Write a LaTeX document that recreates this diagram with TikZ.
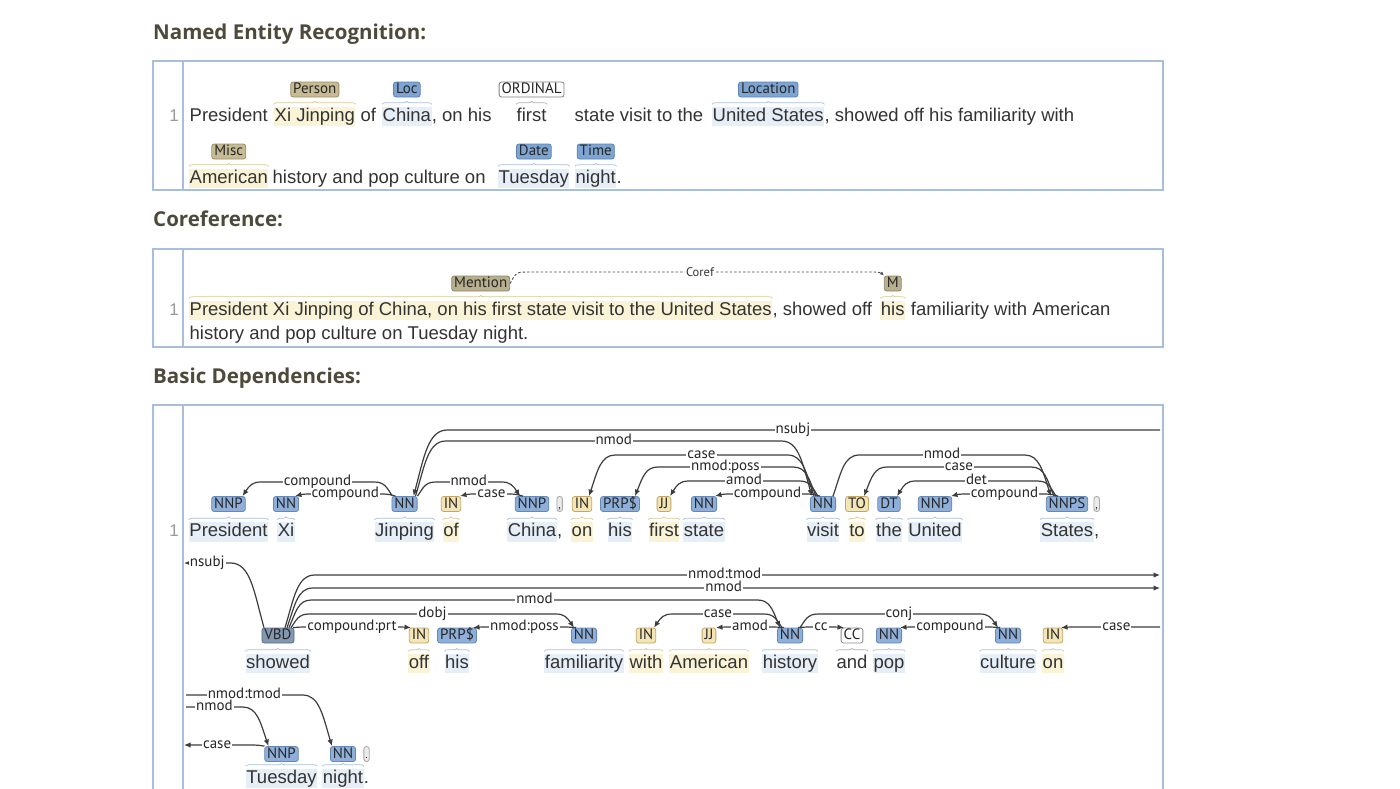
\documentclass[tikz,border=0pt]{standalone}
\usepackage{fontspec}
\setmainfont{Liberation Sans}
\newfontfamily\lblfont{PT Sans}
\newfontfamily\hdrfont{Open Sans}
\usetikzlibrary{arrows.meta,bending,calc,decorations.pathreplacing}

\definecolor{txt}{HTML}{333333}
\definecolor{frame}{HTML}{A8BEDD}
\definecolor{hdrc}{HTML}{4D4A3C}
\definecolor{tagblue}{HTML}{8EAFD9}
\definecolor{tagblueB}{HTML}{6588B6}
\definecolor{tagtan}{HTML}{F3E5B6}
\definecolor{tagtanB}{HTML}{C3A766}
\definecolor{tagvbd}{HTML}{8397B0}
\definecolor{tagvbdB}{HTML}{566D88}
\definecolor{enttan}{HTML}{C6BB94}
\definecolor{enttanB}{HTML}{9D9068}
\definecolor{entblue}{HTML}{7EA5D1}
\definecolor{entblueB}{HTML}{5A82B3}
\definecolor{menttan}{HTML}{B8AF8E}
\definecolor{menttanB}{HTML}{8F8566}
\definecolor{hlblue}{HTML}{E6EEF8}
\definecolor{hltan}{HTML}{FBF3D6}
\definecolor{braceblue}{HTML}{A9C0DE}
\definecolor{bracetan}{HTML}{D9C98F}
\definecolor{arcc}{HTML}{3D3D3D}

\tikzset{
  word/.style={anchor=base, inner xsep=0.5pt, inner ysep=0.5pt, text height=14pt, text depth=4.5pt,
    font=\fontsize{18.5}{22}\selectfont, text=txt},
  wordL/.style={word, anchor=base west},
  hlB/.style={fill=hlblue}, hlT/.style={fill=hltan}, hlV/.style={fill=hlblue},
  hlW/.style={}, hlP/.style={},
  lbl/.style={font=\lblfont\fontsize{15}{15}\selectfont, rounded corners=2.5pt, inner xsep=2.5pt,
    inner ysep=0pt, text height=10.5pt, text depth=2.5pt, minimum height=15pt, line width=0.8pt,
    text=black!85},
  tagB/.style={lbl, fill=tagblue, draw=tagblueB},
  tagT/.style={lbl, fill=tagtan, draw=tagtanB},
  tagV/.style={lbl, fill=tagvbd, draw=tagvbdB},
  tagW/.style={lbl, fill=white, draw=black!45},
  tagP/.style={lbl, fill=black!8, draw=black!35, inner xsep=1.5pt, font=\lblfont\fontsize{11}{11}\selectfont},
  entT/.style={lbl, fill=enttan, draw=enttanB},
  entB/.style={lbl, fill=entblue, draw=entblueB},
  entW/.style={lbl, fill=white, draw=black!50},
  entM/.style={lbl, fill=menttan, draw=menttanB},
  brc/.style={decorate, decoration={brace, amplitude=3pt}, line width=0.7pt},
  brB/.style={brc, draw=braceblue}, brT/.style={brc, draw=bracetan},
  brV/.style={brc, draw=braceblue}, brW/.style={brc, draw=black!30}, brP/.style={brc, draw=black!25},
  arcln/.style={draw=arcc, line width=1.2pt, >={Latex[length=6.5pt,width=5.5pt,flex]}},
  arclbl/.style={fill=white, inner xsep=1pt, inner ysep=0pt, font=\lblfont\fontsize{15}{15}\selectfont,
    text=black!85, text height=9pt, text depth=2pt},
  corefln/.style={draw=black!70, line width=0.9pt, dash pattern=on 2.5pt off 2pt,
    -{Latex[length=4pt,width=3.5pt,flex]}},
  coreflbl/.style={fill=white, inner sep=1pt, font=\lblfont\fontsize{12.5}{12.5}\selectfont, text=black!80},
  framebox/.style={draw=frame, line width=1.5pt},
  hdr/.style={anchor=base west, inner sep=0pt, font=\hdrfont\bfseries\fontsize{20.5}{24}\selectfont, text=hdrc},
  lno/.style={anchor=base east, inner sep=0pt, font=\fontsize{17}{20}\selectfont, text=black!40}
}

% token: word, its part-of-speech tag (#1 above the baseline) and the brace between them
\newcommand\deptok[7][32.5pt]{%
  \node[word, hl#2] (w#3) at (#4,#5) {#6};
  \node[tag#2] (t#3) at ([yshift=#1]w#3.base) {#7};
  \draw[br#2] ([yshift=2pt]w#3.north west) -- ([yshift=2pt]w#3.north east);}
% punctuation token glued to the previous word
\newcommand\deppunct[4][32.5pt]{%
  \node[word, anchor=base west, inner xsep=0pt] (w#2) at (#3.base east) {#4};
  \node[tagP] (t#2) at ([yshift=#1]w#2.base) {#4};}
% entity label over a text span
\newcommand\entlbl[4]{%
  \node[#1] (e#2) at ([yshift=31.5pt]#2.base) {#3};
  \draw[#4] ([yshift=2pt]#2.north west) -- ([yshift=2pt]#2.north east);}
% dependency arc between two tags; #4 is the height of the horizontal run
\newcommand\deparc[5][]{%
  \draw[arcln,#1] let \p1=(#2), \p2=(#3),
      \n1={14+0.3*abs(\y1+#4pt)}, \n2={14+0.3*abs(\y2+#4pt)} in
    (\p1) .. controls ({\x1+0.3*\n1},{0.45*\y1-0.55*#4pt}) and ({\x1+0.4*\n1},-#4pt) .. ({\x1+\n1},-#4pt)
    -- node[arclbl]{#5} ({\x2-\n2},-#4pt)
    .. controls ({\x2-0.4*\n2},-#4pt) and ({\x2-0.3*\n2},{0.45*\y2-0.55*#4pt}) .. (\p2);}
% arc running out to the right margin
\newcommand\arcedgeR[5][]{%
  \draw[arcln,#1] let \p1=(#2), \p2=(#3), \n1={14+0.3*abs(\y1+#4pt)} in
    (\p1) .. controls ({\x1+0.3*\n1},{0.45*\y1-0.55*#4pt}) and ({\x1+0.4*\n1},-#4pt) .. ({\x1+\n1},-#4pt)
    -- node[arclbl, pos=0.485]{#5} (\p2);}
% arc coming in from the left margin
\newcommand\arcedgeL[5][]{%
  \draw[arcln,#1] let \p1=(#2), \p2=(#3), \n2={14+0.3*abs(\y2+#4pt)} in
    (\p1) -- node[arclbl]{#5} ({\x2-\n2},-#4pt)
    .. controls ({\x2-0.4*\n2},-#4pt) and ({\x2-0.3*\n2},{0.45*\y2-0.55*#4pt}) .. (\p2);}

\begin{document}
\begin{tikzpicture}[x=1pt,y=-1pt]
\useasboundingbox (0,0) rectangle (1400,788);
\clip (0,0) rectangle (1400,788);
\fill[white] (0,0) rectangle (1400,788);

% ---------- section frames ----------
\draw[framebox] (153,61) rectangle (1163,190);
\draw[framebox] (183,61) -- (183,190);
\draw[framebox] (153,249) rectangle (1163,347);
\draw[framebox] (183,249) -- (183,347);
\draw[framebox] (153,405) rectangle (1163,820);
\draw[framebox] (183,405) -- (183,820);

\node[hdr] (h1) at (153,39.5) {Named Entity Recognition:};
\node[hdr] (h2) at (153,226.5) {Coreference:};
\node[hdr] (h3) at (153,383.5) {Basic Dependencies:};

\node[lno] (l1) at (179,121) {1};
\node[lno] (l2) at (179,315) {1};
\node[lno] (l3) at (179,536.5) {1};

% ---------- named entities ----------
\node[wordL] (n1a) at (189,121) {President};
\node[wordL, hlT] (n1b) at (274,121) {Xi Jinping};
\node[wordL] (n1c) at (360,121) {of};
\node[wordL, hlB] (n1d) at (382,121) {China};
\node[wordL, inner xsep=0pt] (n1e) at (n1d.base east) {, on his};
\node[wordL] (n1f) at (516,121) {first};
\node[wordL] (n1g) at (574,121) {state visit to the};
\node[wordL, hlB] (n1h) at (712,121) {United States};
\node[wordL, inner xsep=0pt] (n1i) at (n1h.base east) {, showed off his familiarity with};
\entlbl{entT}{n1b}{Person}{brT}
\entlbl{entB}{n1d}{Loc}{brB}
\entlbl{entW}{n1f}{ORDINAL}{brW}
\entlbl{entB}{n1h}{Location}{brB}

\node[wordL, hlT] (n2a) at (189,183) {American};
\node[wordL] (n2b) at (272,183) {history and pop culture on};
\node[wordL, hlB] (n2c) at (498,183) {Tuesday};
\node[wordL, hlB] (n2d) at (575,183) {night};
\node[wordL, inner xsep=0pt] (n2e) at (n2d.base east) {.};
\entlbl{entT}{n2a}{Misc}{brT}
\entlbl{entB}{n2c}{Date}{brB}
\entlbl{entB}{n2d}{Time}{brB}

% ---------- coreference ----------
\node[wordL, hlT] (c1a) at (189,315) {President Xi Jinping of China, on his first state visit to the United States};
\node[wordL, inner xsep=0pt] (c1b) at (c1a.base east) {, showed off};
\node[wordL, hlT] (c1c) at ([xshift=8pt]c1b.base east) {his};
\node[wordL] (c1d) at ([xshift=5pt]c1c.base east) {familiarity with American};
\node[wordL] (c2a) at (189,339) {history and pop culture on Tuesday night.};
\entlbl{entM}{c1a}{Mention}{brT}
\entlbl{entM}{c1c}{M}{brT}
\draw[corefln] let \p1=(ec1a.east), \p2=(ec1c.north west) in
  (\p1) .. controls ({\x1+6pt},-272pt) .. ({\x1+20pt},-272pt)
  -- node[coreflbl]{Coref} ({\x2-14pt},-272pt)
  .. controls ({\x2-3pt},-272pt) .. (\p2);

% ---------- dependencies, line 1 ----------
\deptok{B}{P}{228.5}{536.5}{President}{NNP}
\deptok{B}{Xi}{286}{536.5}{Xi}{NN}
\deptok{B}{J}{404.5}{536.5}{Jinping}{NN}
\deptok{T}{Of}{451}{536.5}{of}{IN}
\deptok{B}{Ch}{532}{536.5}{China}{NNP}
\deppunct{Cm}{wCh}{,}
\deptok{T}{On}{582}{536.5}{on}{IN}
\deptok{B}{His}{620}{536.5}{his}{PRP\$}
\deptok{T}{First}{664}{536.5}{first}{JJ}
\deptok{B}{State}{704}{536.5}{state}{NN}
\deptok{B}{Visit}{823}{536.5}{visit}{NN}
\deptok{T}{To}{857}{536.5}{to}{TO}
\deptok{B}{The}{889}{536.5}{the}{DT}
\deptok{B}{Un}{935}{536.5}{United}{NNP}
\deptok{B}{St}{1067}{536.5}{States}{NNPS}
\deppunct{Cm2}{wSt}{,}

% ---------- dependencies, line 2 ----------
\deptok{V}{Sh}{278}{668}{showed}{VBD}
\deptok{T}{Off}{419}{668}{off}{IN}
\deptok{B}{His2}{457}{668}{his}{PRP\$}
\deptok{B}{Fam}{584}{668}{familiarity}{NN}
\deptok{T}{With}{646}{668}{with}{IN}
\deptok{T}{Am}{709}{668}{American}{JJ}
\deptok{B}{Hist}{790}{668}{history}{NN}
\deptok{W}{And}{852}{668}{and}{CC}
\deptok{B}{Pop}{889}{668}{pop}{NN}
\deptok{B}{Cult}{1008}{668}{culture}{NN}
\deptok{T}{On2}{1053}{668}{on}{IN}

% ---------- dependencies, line 3 ----------
\deptok[29pt]{B}{Tue}{281.5}{783}{Tuesday}{NNP}
\deptok[29pt]{B}{Night}{343}{783}{night}{NN}
\deppunct[29pt]{Dot}{wNight}{.}

% margin ends of arcs that continue on another line
\coordinate (eR1) at (1160,430);
\coordinate (eL2) at (184,563);
\coordinate (eR2a) at (1160,575);
\coordinate (eR2b) at (1160,588);
\coordinate (eR2c) at (1160,627);
\coordinate (eL3a) at (186,695);
\coordinate (eL3b) at (186,707);
\coordinate (eL3c) at (184,745);

% arcs, line 1
\arcedgeR[<-]{[xshift=9pt]tJ.north}{eR1}{430}{nsubj}
\deparc[->]{[xshift=11pt]tJ.north}{[xshift=-11pt]tVisit.north}{441}{nmod}
\deparc[<-]{[xshift=14pt]tP.north}{[xshift=-12pt]tJ.north}{482}{compound}
\deparc[<-]{[xshift=9pt]tXi.north}{[xshift=-9pt]tJ.north}{494}{compound}
\deparc[->]{[xshift=13pt]tJ.north}{[xshift=-12pt]tCh.north}{482}{nmod}
\deparc[<-]{[xshift=9pt]tOf.north}{[xshift=-9pt]tCh.north}{494}{case}
\deparc[<-]{[xshift=7pt]tOn.north}{[xshift=-9pt]tVisit.north}{455}{case}
\deparc[<-]{[xshift=15pt]tHis.north}{[xshift=-7pt]tVisit.north}{467}{nmod:poss}
\deparc[<-]{[xshift=6pt]tFirst.north}{[xshift=-5pt]tVisit.north}{481}{amod}
\deparc[<-]{[xshift=11pt]tState.north}{[xshift=-3pt]tVisit.north}{494}{compound}
\deparc[->]{[xshift=10pt]tVisit.north}{[xshift=-16pt]tSt.north}{455}{nmod}
\deparc[<-]{[xshift=7pt]tTo.north}{[xshift=-13pt]tSt.north}{467}{case}
\deparc[<-]{[xshift=8pt]tThe.north}{[xshift=-11pt]tSt.north}{481}{det}
\deparc[<-]{[xshift=16pt]tUn.north}{[xshift=-9pt]tSt.north}{494}{compound}

% arcs, line 2
\arcedgeL[<-]{eL2}{[xshift=-14pt]tSh.north}{563}{nsubj}
\arcedgeR[->]{[xshift=7pt]tSh.north}{eR2a}{575}{nmod:tmod}
\arcedgeR[->]{[xshift=9pt]tSh.north}{eR2b}{588}{nmod}
\deparc[->]{[xshift=11pt]tSh.north}{[xshift=-10pt]tHist.north}{600}{nmod}
\deparc[->]{[xshift=13pt]tSh.north}{[xshift=-10pt]tFam.north}{614}{dobj}
\deparc[->]{[xshift=15pt]tSh.north}{[xshift=-8pt]tOff.north}{627}{compound:prt}
\deparc[<-]{[xshift=16pt]tHis2.north}{[xshift=-8pt]tFam.north}{627}{nmod:poss}
\deparc[<-]{[xshift=8pt]tWith.north}{[xshift=-8pt]tHist.north}{614}{case}
\deparc[<-]{[xshift=7pt]tAm.north}{[xshift=-6pt]tHist.north}{627}{amod}
\deparc[->]{[xshift=8pt]tHist.north}{[xshift=-8pt]tAnd.north}{627}{cc}
\deparc[->]{[xshift=10pt]tHist.north}{[xshift=-10pt]tCult.north}{614}{conj}
\deparc[<-]{[xshift=11pt]tPop.north}{[xshift=-8pt]tCult.north}{627}{compound}
\arcedgeR[<-]{[xshift=8pt]tOn2.north}{eR2c}{627}{case}

% arcs, line 3
\arcedgeL[->]{eL3a}{[xshift=-11pt]tNight.north}{695}{nmod:tmod}
\arcedgeL[->]{eL3b}{[xshift=-13pt]tTue.north}{707}{nmod}
\arcedgeL[<-]{eL3c}{[xshift=-17pt]tTue.north}{745}{case}
\end{tikzpicture}
\end{document}
